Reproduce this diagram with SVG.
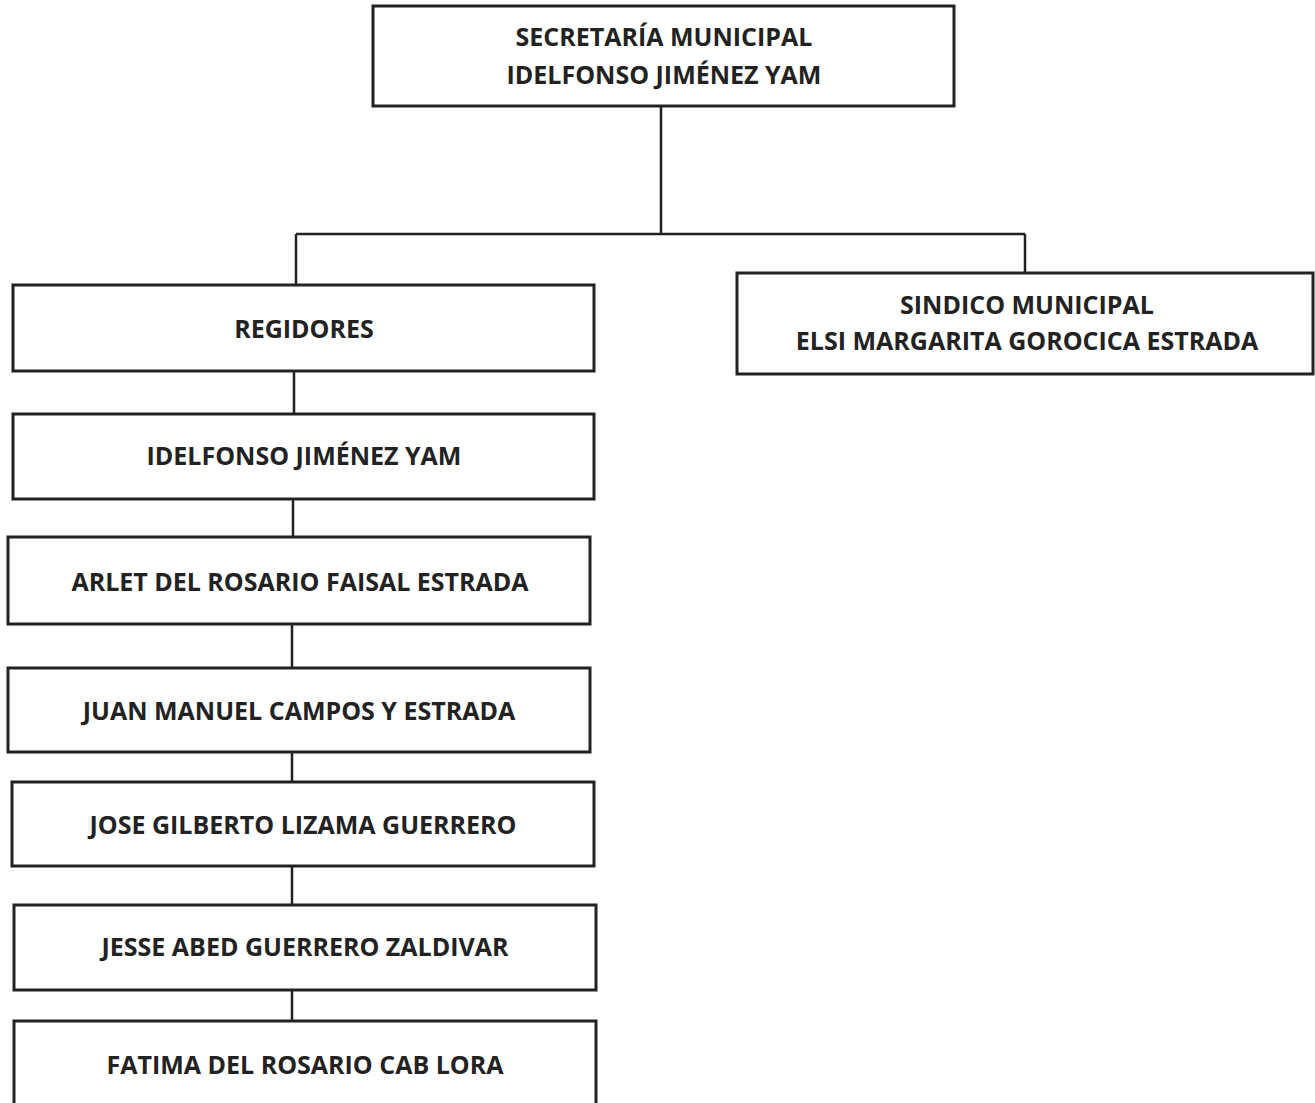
<svg xmlns="http://www.w3.org/2000/svg" width="1315" height="1103" viewBox="0 0 1315 1103">
<style>
.box{fill:#fff;stroke:#222;stroke-width:3}
.lbl{font-family:"Open Sans","Liberation Sans",sans-serif;font-weight:700;font-size:25px;fill:#222;text-anchor:middle}
.con{fill:none;stroke:#222;stroke-width:2.5}
</style>
<rect width="1315" height="1103" fill="#fff"/>
<g id="connectors">
<path class="con" d="M661 106V234M296 234H1025M296 234V285M1025 234V273"/>
<path class="con" d="M294 371V414M293 499V537M292 624V668M292 752V782M292 866V905M292 990V1021"/>
</g>
<g id="n-secretaria"><rect class="box" x="373" y="6" width="581" height="100"/><text class="lbl" x="664" y="46">SECRETARÍA MUNICIPAL</text><text class="lbl" x="664" y="84">IDELFONSO JIMÉNEZ YAM</text></g>
<g id="n-regidores"><rect class="box" x="13" y="285" width="581" height="86"/><text class="lbl" x="304" y="338">REGIDORES</text></g>
<g id="n-sindico"><rect class="box" x="737" y="273" width="576" height="101"/><text class="lbl" x="1027" y="314">SINDICO MUNICIPAL</text><text class="lbl" x="1027" y="350">ELSI MARGARITA GOROCICA ESTRADA</text></g>
<g id="n-idelfonso"><rect class="box" x="13" y="414" width="581" height="85"/><text class="lbl" x="304" y="465">IDELFONSO JIMÉNEZ YAM</text></g>
<g id="n-arlet"><rect class="box" x="8" y="537" width="582" height="87"/><text class="lbl" x="300" y="591">ARLET DEL ROSARIO FAISAL ESTRADA</text></g>
<g id="n-juan"><rect class="box" x="8" y="668" width="582" height="84"/><text class="lbl" x="299" y="720">JUAN MANUEL CAMPOS Y ESTRADA</text></g>
<g id="n-jose"><rect class="box" x="12" y="782" width="582" height="84"/><text class="lbl" x="303" y="834">JOSE GILBERTO LIZAMA GUERRERO</text></g>
<g id="n-jesse"><rect class="box" x="14" y="905" width="582" height="85"/><text class="lbl" x="305" y="956">JESSE ABED GUERRERO ZALDIVAR</text></g>
<g id="n-fatima"><rect class="box" x="14" y="1021" width="582" height="90"/><text class="lbl" x="305" y="1074">FATIMA DEL ROSARIO CAB LORA</text></g>
</svg>
